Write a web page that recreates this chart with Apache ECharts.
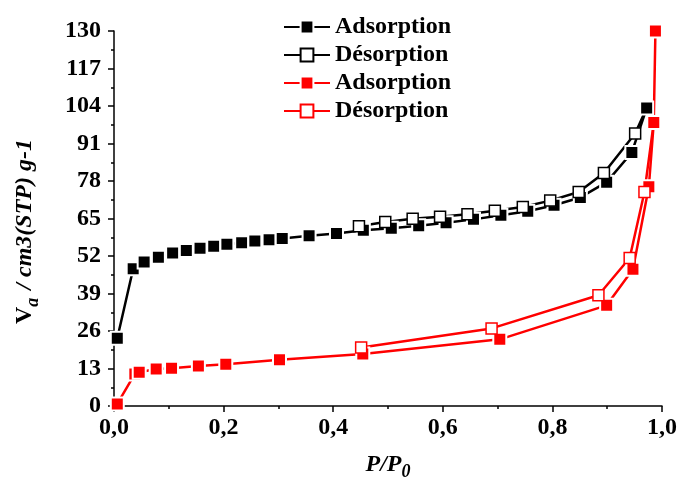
<!DOCTYPE html>
<html>
<head>
<meta charset="utf-8">
<script src="https://cdn.jsdelivr.net/npm/echarts@6/dist/echarts.min.js"></script>
<style>html,body{margin:0;padding:0;background:#fff}#c{width:680px;height:486px}</style>
</head>
<body>
<div id="c"></div>
<script>
// Data
const blackAdsorption = [
  [0.006,23.5],[0.035,47.6],[0.055,49.9],[0.081,51.6],[0.107,53.0],[0.132,53.9],
  [0.157,54.7],[0.182,55.4],[0.206,56.1],[0.233,56.6],[0.257,57.2],[0.283,57.6],
  [0.307,58.1],[0.356,59.0],[0.406,59.8],[0.455,60.9],[0.506,61.6],[0.556,62.5],
  [0.606,63.5],[0.656,64.7],[0.706,66.1],[0.755,67.5],[0.803,69.6],[0.851,72.3],
  [0.899,77.6],[0.945,87.9],[0.972,103.3]
];
const blackDesorption = [
  [0.972,103.3],[0.951,94.5],[0.894,80.8],[0.848,74.2],[0.796,71.2],[0.746,69.0],
  [0.695,67.7],[0.645,66.5],[0.595,65.6],[0.545,64.9],[0.495,63.8],[0.447,62.3]
];
const redAdsorption = [
  [0.006,0.7],[0.038,11.1],[0.046,11.7],[0.077,12.8],[0.105,13.1],[0.154,13.9],
  [0.204,14.5],[0.302,16.0],[0.454,18.0],[0.704,23.1],[0.899,34.9],[0.947,47.4],
  [0.976,76.0],[0.985,98.3],[0.988,130.0]
];
const redDesorption = [
  [0.985,98.3],[0.968,74.2],[0.941,51.3],[0.884,38.4],[0.689,26.9],[0.451,20.3]
];
const legendLabels = ['Adsorption','Désorption','Adsorption','Désorption'];
const xTickLabels = ['0,0','0,2','0,4','0,6','0,8','1,0'];
const yTickLabels = ['0','13','26','39','52','65','78','91','104','117','130'];

const FONT = '"Liberation Serif","Times New Roman",serif';
const seriesKeys = ['s0','s1','s2','s3'];

function desData(arr){
  // first point is the turning point shared with adsorption: no marker
  return arr.map((p,i)=> i===0 ? {value:p, symbol:'none'} : {value:p});
}

const chart = echarts.init(document.getElementById('c'), null, {renderer:'canvas'});
chart.setOption({
  animation:false,
  backgroundColor:'#fff',
  grid:{left:114,right:17,top:31,bottom:79,containLabel:false},
  legend:{
    orient:'vertical', left:278, top:10, itemGap:4,
    itemWidth:46, itemHeight:16,
    data:seriesKeys,
    formatter:function(n){return legendLabels[seriesKeys.indexOf(n)];},
    textStyle:{fontFamily:FONT,fontWeight:'bold',fontSize:24,color:'#000'}
  },
  xAxis:{
    type:'value', min:0, max:1, interval:0.2,
    name:'{i|P/P}{s|0}', nameLocation:'middle', nameGap:43,
    nameTextStyle:{
      rich:{
        i:{fontFamily:FONT,fontStyle:'italic',fontWeight:'bold',fontSize:24,color:'#000'},
        s:{fontFamily:FONT,fontStyle:'italic',fontWeight:'bold',fontSize:18,color:'#000',padding:[14,0,0,0]}
      }
    },
    axisLine:{lineStyle:{color:'#000',width:1.5}},
    axisTick:{inside:false,length:6,lineStyle:{color:'#000',width:1.5}},
    minorTick:{show:true,splitNumber:2,length:3,lineStyle:{color:'#000',width:1.5}},
    splitLine:{show:false},
    axisLabel:{
      fontFamily:FONT,fontWeight:'bold',fontSize:24,color:'#000',margin:10,
      formatter:function(v){return xTickLabels[Math.round(v/0.2)];}
    }
  },
  yAxis:{
    type:'value', min:0, max:130, interval:13,
    name:'{v|V}{s|a}{i| / cm3(STP) g-1}', nameLocation:'middle', nameGap:72, nameRotate:90,
    nameTextStyle:{
      padding:[0,26,0,0],
      rich:{
        v:{fontFamily:FONT,fontWeight:'bold',fontSize:24,color:'#000'},
        s:{fontFamily:FONT,fontStyle:'italic',fontWeight:'bold',fontSize:18,color:'#000',padding:[16,2,0,0]},
        i:{fontFamily:FONT,fontStyle:'italic',fontWeight:'bold',fontSize:24,color:'#000'}
      }
    },
    axisLine:{show:true,lineStyle:{color:'#000',width:1.5}},
    axisTick:{show:true,inside:false,length:6,lineStyle:{color:'#000',width:1.5}},
    minorTick:{show:true,splitNumber:2,length:3,lineStyle:{color:'#000',width:1.5}},
    splitLine:{show:false},
    axisLabel:{
      fontFamily:FONT,fontWeight:'bold',fontSize:24,color:'#000',margin:13,
      formatter:function(v){return yTickLabels[Math.round(v/13)];}
    }
  },
  series:[
    {name:'s0',type:'line',data:blackAdsorption,symbol:'rect',symbolSize:13,
     lineStyle:{color:'#000',width:2.5},
     itemStyle:{color:'#000',borderColor:'#fff',borderWidth:2}},
    {name:'s1',type:'line',data:desData(blackDesorption),symbol:'rect',symbolSize:11,
     lineStyle:{color:'#000',width:2.5},
     itemStyle:{color:'#fff',borderColor:'#000',borderWidth:1.5}},
    {name:'s2',type:'line',data:redAdsorption,symbol:'rect',symbolSize:13,
     lineStyle:{color:'#ff0000',width:2.5},
     itemStyle:{color:'#ff0000',borderColor:'#fff',borderWidth:2}},
    {name:'s3',type:'line',data:desData(redDesorption),symbol:'rect',symbolSize:11,
     lineStyle:{color:'#ff0000',width:2.5},
     itemStyle:{color:'#fff',borderColor:'#ff0000',borderWidth:1.5}}
  ]
});
</script>
</body>
</html>
